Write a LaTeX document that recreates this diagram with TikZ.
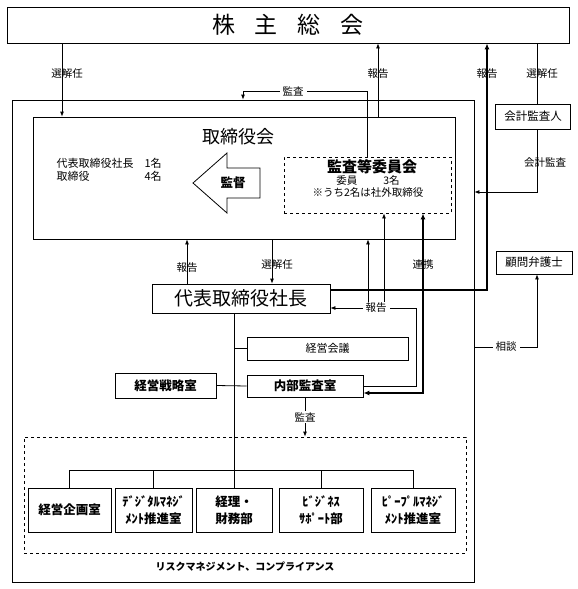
\documentclass[tikz,border=0pt]{standalone}
\usepackage{fontspec}
\setmainfont{Noto Sans CJK JP}
\usetikzlibrary{arrows.meta}

\tikzset{
  box/.style={draw, line width=0.8pt, inner sep=0pt, align=center},
  dept/.style={box, minimum width=#1, minimum height=44,
    font=\bfseries\fontsize{12.5}{17}\selectfont},
  lbl/.style={inner sep=1pt, font=\fontsize{10.5}{12}\selectfont},
  wlbl/.style={lbl, fill=white, inner xsep=3pt},
  conn/.style={line width=0.8pt},
  link/.style={conn, -{Latex[length=5pt,width=4pt]}},
  boldlink/.style={line width=2pt, -{Latex[length=6pt,width=5pt]}},
  boldboth/.style={line width=2pt, {Latex[length=6pt,width=5pt]}-{Latex[length=6pt,width=5pt]}},
}

\begin{document}
\begin{tikzpicture}[x=1pt,y=-1pt]
\useasboundingbox (0,0) rectangle (578,589);

% meeting, company frame, board
\node[box, minimum width=562, minimum height=36, font=\fontsize{23}{25}\selectfont] (gm) at (288,25) {株\hspace{20pt}主\hspace{20pt}総\hspace{20pt}会};
\node[box, minimum width=462, minimum height=482] (org) at (243,341) {};
\node[box, minimum width=422, minimum height=122] (board) at (244,178) {};
\node[font=\fontsize{18}{20}\selectfont] (boardt) at (238,137) {取締役会};
\node[anchor=west, font=\fontsize{11}{13}\selectfont] (members) at (53,171)
  {\begin{tabular}{@{}l@{\hspace{11pt}}l@{}}代表取締役社長 & 1名\\ 取締役 & 4名\end{tabular}};

% supervision arrow
\draw[line width=0.8pt] (193,183) -- (227,153) -- (227,168) -- (260,168) -- (260,198) -- (227,198) -- (227,213) -- cycle;
\node[font=\bfseries\fontsize{12.5}{14}\selectfont] (kantoku) at (233,183) {監督};

% audit committee
\node[box, dashed, minimum width=167, minimum height=56] (ac) at (367.5,185) {};
\node[font=\bfseries\fontsize{15}{17}\selectfont] (act) at (372,167) {監査等委員会};
\node[font=\fontsize{10.5}{12}\selectfont] (acm) at (368,181) {委員\hspace{26pt}3名};
\node[font=\fontsize{10.5}{12}\selectfont] (acn) at (368,193) {※うち2名は社外取締役};

% outside
\node[box, minimum width=75, minimum height=25, font=\fontsize{11.5}{13}\selectfont] (cpa) at (533,116.5) {会計監査人};
\node[box, minimum width=76, minimum height=23, font=\fontsize{11.5}{13}\selectfont] (law) at (534,262.5) {顧問弁護士};

% executive side
\node[box, minimum width=178, minimum height=29, font=\fontsize{19}{21}\selectfont] (ceo) at (241,298.5) {代表取締役社長};
\node[box, minimum width=161, minimum height=23, font=\fontsize{11}{13}\selectfont] (mtg) at (327.5,348.5) {経営会議};
\node[box, minimum width=101, minimum height=25, font=\bfseries\fontsize{12.5}{14}\selectfont] (strat) at (165.5,385.5) {経営戦略室};
\node[box, minimum width=116, minimum height=22, font=\bfseries\fontsize{12.5}{14}\selectfont] (audit) at (305,386) {内部監査室};

% departments
\node[box, dashed, minimum width=442, minimum height=116] (grp) at (245,495) {};
\node[dept=83] (plan) at (69.5,510) {経営企画室};
\node[dept=77] (dx) at (153.5,510) {ﾃﾞｼﾞﾀﾙﾏﾈｼﾞ\\ﾒﾝﾄ推進室};
\node[dept=76] (fin) at (234,510) {経理・\\財務部};
\node[dept=84] (biz) at (321,510) {ﾋﾞｼﾞﾈｽ\\ｻﾎﾟｰﾄ部};
\node[dept=84] (hr) at (413,510) {ﾋﾟｰﾌﾟﾙﾏﾈｼﾞ\\ﾒﾝﾄ推進室};
\node[font=\bfseries\fontsize{10}{12}\selectfont] (risk) at (245,567) {リスクマネジメント、コンプライアンス};

% x positions of the vertical connectors
\coordinate (xsel) at (62,0);
\coordinate (xrep) at (378,0);
\coordinate (xcpa) at (537,0);
\coordinate (xrep3) at (187,0);
\coordinate (xsel3) at (272,0);

% meeting <-> board
\draw[link] (gm.south -| xsel) -- (board.north -| xsel);
\node[lbl] (sel1) at (67,74) {選解任};
\coordinate (kansa) at (243,91);
\draw[link] (ac.north) |- (kansa) -- (kansa |- org.north);
\node[wlbl] (kansa1) at (293,91) {監査};
\draw[link] (board.north -| xrep) -- (gm.south -| xrep);
\node[lbl] (rep1) at (378,74) {報告};
\coordinate (hotline) at (487,290);
\draw[boldlink] (ceo.east |- hotline) -- (hotline) -- (hotline |- gm.south);
\node[lbl] (rep2) at (487,74) {報告};

% accounting auditor, lawyer
\draw[conn] (gm.south -| xcpa) -- (cpa.north -| xcpa);
\node[lbl] (sel2) at (542,74) {選解任};
\coordinate (kaikei) at (537,192);
\draw[link] (cpa.south -| kaikei) -- (kaikei) -- (kaikei -| org.east);
\node[lbl] (kaikei1) at (545,163) {会計監査};
\coordinate (soudan) at (537,347);
\draw[link] (soudan -| org.east) -- (soudan) -- (soudan |- law.south);
\node[wlbl] (soudan1) at (506,347) {相談};

% board <-> president
\draw[link] (ceo.north -| xrep3) -- (board.south -| xrep3);
\node[lbl] (rep3) at (187,268) {報告};
\draw[link] (board.south -| xsel3) -- (ceo.north -| xsel3);
\node[lbl] (sel3) at (277,265) {選解任};

% internal audit reporting
\coordinate (hk) at (416,308);
\coordinate (v1) at (368,308);
\coordinate (v2) at (384,308);
\draw[link] (audit.east) -| (hk) -- (hk -| ceo.east);
\draw[link] (v1) -- (v1 |- board.south);
\draw[link] (v2) -- (v2 |- ac.south);
\node[wlbl] (rep4) at (376,308) {報告};
\coordinate (renkei) at (423,393);
\draw[boldboth] (ac.south -| renkei) -- (renkei) -- (renkei -| audit.east);
\node[lbl] (renkei1) at (423,265) {連携};

% organisation tree
\coordinate (bar) at (0,470);
\draw[conn] (ceo.south -| fin) -- (fin.north);
\draw[conn] (mtg.west -| fin) -- (mtg.west);
\draw[conn] (strat.east) -- (audit.west);
\draw[conn] (plan.north) |- (bar -| hr) -- (hr.north);
\foreach \d in {dx,biz}
  \draw[conn] (\d.north) -- (\d.north |- bar);
\draw[link] (audit.south) -- node[wlbl] (kansa2) {監査} (audit.south |- grp.north);
\end{tikzpicture}
\end{document}
